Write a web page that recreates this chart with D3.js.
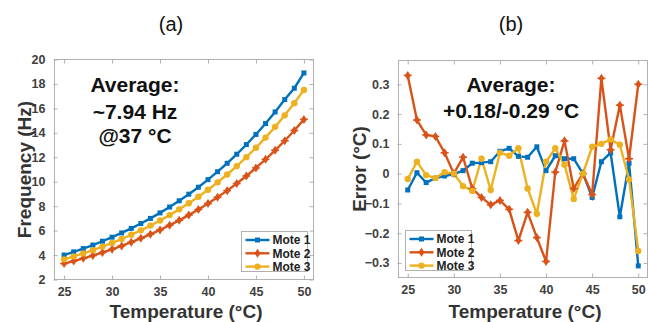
<!DOCTYPE html>
<html><head><meta charset="utf-8">
<script src="https://cdn.jsdelivr.net/npm/d3@7"></script>
<style>body{margin:0;background:#fff}svg{display:block}text{font-family:Arial,"Liberation Sans",sans-serif}</style>
</head><body><svg id="c" width="648" height="322"></svg>
<script>
const temps = d3.range(25, 51);
const freqMote1 = [4.00,4.26,4.53,4.82,5.13,5.46,5.81,6.18,6.58,7.00,7.45,7.93,8.44,8.98,9.55,10.17,10.82,11.51,12.25,13.04,13.87,14.76,15.71,16.72,17.65,18.90];
const freqMote2 = [3.30,3.51,3.73,3.96,4.21,4.47,4.75,5.05,5.37,5.70,6.06,6.44,6.84,7.27,7.73,8.21,8.73,9.27,9.85,10.47,11.13,11.83,12.57,13.35,14.19,15.10];
const freqMote3 = [3.65,3.89,4.14,4.40,4.69,4.99,5.31,5.66,6.02,6.41,6.83,7.27,7.74,8.24,8.77,9.34,9.95,10.59,11.28,12.01,12.78,13.61,14.49,15.43,16.43,17.50];
const errMote1 = [-0.055,0.003,-0.030,-0.015,-0.008,-0.002,0.010,0.035,0.037,0.040,0.075,0.085,0.058,0.055,0.090,0.010,0.060,0.050,0.050,0.000,-0.080,0.040,0.070,-0.145,0.035,-0.310];
const errMote2 = [0.330,0.180,0.130,0.125,0.070,0.000,0.055,-0.050,-0.080,-0.105,-0.090,-0.120,-0.225,-0.130,-0.215,-0.295,0.005,0.110,-0.050,0.000,-0.070,0.320,0.080,0.230,0.050,0.300];
const errMote3 = [-0.018,0.040,-0.005,-0.015,0.005,0.000,-0.042,-0.058,0.050,-0.055,0.070,0.060,0.085,-0.050,-0.135,0.040,0.085,0.030,-0.085,0.000,0.090,0.100,0.115,0.097,-0.020,-0.260];
const seriesNames = ["Mote 1","Mote 2","Mote 3"];
const colors = ["#0072BD","#D95319","#EDB120"];
const xTicks = [25,30,35,40,45,50];
const freqTicks = [2,4,6,8,10,12,14,16,18,20];
const errTicks = [-0.3,-0.2,-0.1,0,0.1,0.2,0.3];

const svg = d3.select("#c");
const axisCol = "#b0b0b0", tickTextCol = "#404040";

function panel(opt){
  const {x0,x1,y0,y1,ydom,yticks,yfmt,data,ylabel,ylabelX,title,titleX,notes,legend} = opt;
  const x = d3.scaleLinear().domain([24,51]).range([x0,x1]);
  const y = d3.scaleLinear().domain(ydom).range([y1,y0]);
  const g = svg.append("g");
  g.append("rect").attr("x",x0).attr("y",y0).attr("width",x1-x0).attr("height",y1-y0)
    .attr("fill","#fff").attr("stroke",axisCol).attr("stroke-width",1);
  const ax = (a)=>a.tickSizeInner(-4).tickSizeOuter(0).tickPadding(8);
  const bottom = g.append("g").attr("transform",`translate(0,${y1})`).call(ax(d3.axisBottom(x).tickValues(xTicks)));
  const top = g.append("g").attr("transform",`translate(0,${y0})`).call(ax(d3.axisTop(x).tickValues(xTicks)).tickFormat(""));
  const left = g.append("g").attr("transform",`translate(${x0},0)`).call(ax(d3.axisLeft(y).tickValues(yticks)).tickFormat(yfmt));
  const right = g.append("g").attr("transform",`translate(${x1},0)`).call(ax(d3.axisRight(y).tickValues(yticks)).tickFormat(""));
  [bottom,top,left,right].forEach(a=>{
    a.select(".domain").remove();
    a.selectAll("line").attr("stroke",axisCol);
    a.selectAll("text").attr("fill",tickTextCol).style("font-size","12.5px").style("font-weight","bold").style("font-family","Arial");
  });
  left.attr("transform",`translate(${x0-1},0)`);
  const line = d3.line().x((d,i)=>x(temps[i])).y(d=>y(d));
  data.forEach((s,k)=>{
    g.append("path").datum(s).attr("d",line).attr("fill","none").attr("stroke",colors[k]).attr("stroke-width",2.4);
  });
  data.forEach((s,k)=>{
    drawMarkers(g, s.map((v,i)=>[x(temps[i]),y(v)]), k);
  });
  notes.forEach(n=>{
    g.append("text").attr("x",n.x).attr("y",n.y).attr("text-anchor","middle")
      .style("font-size","21px").style("font-weight","bold").attr("fill","#111").text(n.t);
  });
  const L = legend;
  g.append("rect").attr("x",L.x).attr("y",L.y).attr("width",L.w).attr("height",L.h)
    .attr("fill","#fff").attr("stroke",axisCol).attr("stroke-width",1);
  seriesNames.forEach((nm,k)=>{
    const yy = L.y + 8.5 + k*13.3;
    g.append("line").attr("x1",L.x+4).attr("x2",L.x+28).attr("y1",yy).attr("y2",yy)
      .attr("stroke",colors[k]).attr("stroke-width",2.4);
    drawMarkers(g, [[L.x+16,yy]], k);
    g.append("text").attr("x",L.x+31).attr("y",yy+4.3).style("font-size","12px")
      .style("font-weight","bold").attr("fill","#222").text(nm);
  });
  g.append("text").attr("x",(x0+x1)/2+2).attr("y",318).attr("text-anchor","middle")
    .style("font-size","19px").style("font-weight","bold").attr("fill","#333").text("Temperature (°C)");
  g.append("text").attr("transform",`translate(${ylabelX},${(y0+y1)/2}) rotate(-90)`).attr("text-anchor","middle")
    .style("font-size","19px").style("font-weight","bold").attr("fill","#333").text(ylabel);
  svg.append("text").attr("x",titleX).attr("y",31).attr("text-anchor","middle")
    .style("font-size","20px").attr("fill","#111").text(title);
}

function drawMarkers(g, pts, k){
  const c = colors[k];
  pts.forEach(([px,py])=>{
    if(k===0){
      g.append("rect").attr("x",px-2.5).attr("y",py-2.5).attr("width",5).attr("height",5).attr("fill",c);
    } else if(k===1){
      g.append("path").attr("d",`M${px},${py-4.5}L${px+3},${py}L${px},${py+4.5}L${px-3},${py}Z`).attr("fill",c);
      g.append("path").attr("d",`M${px-4},${py}L${px+4},${py}`).attr("stroke",c).attr("stroke-width",1.5);
    } else {
      g.append("circle").attr("cx",px).attr("cy",py).attr("r",3.2).attr("fill",c);
    }
  });
}

panel({x0:54.5,x1:313.5,y0:59.5,y1:279.5,ydom:[2,20],yticks:freqTicks,yfmt:d3.format("d"),
  data:[freqMote1,freqMote2,freqMote3],ylabel:"Frequency (Hz)",ylabelX:31,title:"(a)",titleX:171,
  notes:[{x:135,y:92,t:"Average:"},{x:135,y:119,t:"~7.94 Hz"},{x:135,y:143,t:"@37 °C"}],
  legend:{x:241.5,y:231.5,w:66,h:40}});
panel({x0:398.5,x1:647.5,y0:60.5,y1:277.5,ydom:[-0.349,0.38],yticks:errTicks,yfmt:d=>d===0?"0":d3.format(".1f")(d),
  data:[errMote1,errMote2,errMote3],ylabel:"Error (°C)",ylabelX:366,title:"(b)",titleX:511,
  notes:[{x:511,y:92,t:"Average:"},{x:511,y:118,t:"+0.18/-0.29 °C"}],
  legend:{x:405.5,y:230.5,w:66,h:40}});
</script></body></html>
